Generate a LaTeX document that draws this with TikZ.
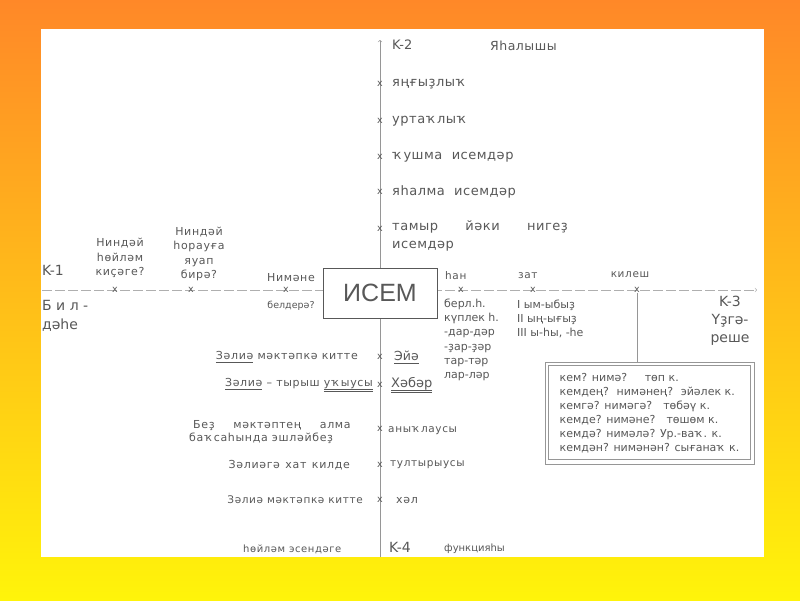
\documentclass[tikz,border=0pt]{standalone}
\usepackage{fontspec}
\setmainfont{DejaVu Sans}
\newfontfamily\arialfont{Liberation Sans}
\newfontfamily\widefont[LetterSpace=6]{DejaVu Sans}
\newfontfamily\midfont[LetterSpace=4]{DejaVu Sans}
\definecolor{inkGray}{RGB}{88,88,88}
\definecolor{axisGray}{RGB}{150,150,150}
\definecolor{dashGray}{RGB}{175,175,175}
\definecolor{topOrange}{RGB}{255,136,40}
\definecolor{bottomYellow}{RGB}{255,244,10}
\newcommand{\fs}[2]{\fontsize{#1}{#2}\selectfont}
\newcommand{\undl}[1]{\setbox0\hbox{#1}\rlap{\rule[-2.8pt]{\wd0}{0.6pt}}\copy0\relax}
\newcommand{\dundl}[1]{\setbox0\hbox{#1}\rlap{\rule[-2.6pt]{\wd0}{0.6pt}}\rlap{\rule[-4.8pt]{\wd0}{0.6pt}}\copy0\relax}

\tikzset{
  ink/.style={text=inkGray, inner sep=0pt},
  tick/.style={ink, font=\fs{9.5}{9.5}},
  axis/.style={axisGray, line width=0.6pt},
  small/.style={ink, font=\widefont\fs{11}{14.3}, align=center},
  vitem/.style={ink, font=\midfont\fs{13}{18.5}, anchor=west, align=left},
  big/.style={ink, font=\fs{14}{19}},
  sent/.style={ink, font=\widefont\fs{11}{13.5}, anchor=east},
}

\begin{document}
\begin{tikzpicture}[x=1pt, y=-1pt]
  \useasboundingbox (0,0) rectangle (800,600);
  \shade[top color=topOrange, bottom color=bottomYellow] (0,0) rectangle (800,600);
  \fill[white] (41,29) rectangle (764,557);

  % axes
  \coordinate (k1) at (42,290);
  \coordinate (k3) at (757,290);
  \coordinate (k2) at (380,40);
  \coordinate (k4) at (380,557);
  \draw[axis, dashGray, dash pattern=on 10pt off 3pt, ->] (k1) -- (k3);
  \draw[axis, ->] (k4) -- (k2);

  \node[draw=inkGray, fill=white, line width=0.7pt, minimum width=114pt, minimum height=50pt,
        text=inkGray, font=\arialfont\fs{25}{25}] (isem) at (380,293) {ИСЕМ};

  % K-2
  \node[ink, font=\fs{13}{13}, anchor=west] (lk2) at (392,45) {K-2};
  \node[ink, font=\midfont\fs{12.5}{12.5}, anchor=west] (yasal) at (490,46) {Яһалышы};
  \node[tick] (v1) at (380,84) {x};
  \node[vitem] (v1t) at (392,84) {яңғыҙлыҡ};
  \node[tick] (v2) at (380,121) {x};
  \node[vitem] (v2t) at (392,121) {уртаҡлыҡ};
  \node[tick] (v3) at (380,157) {x};
  \node[vitem] (v3t) at (392,157) {ҡушма\ \ исемдәр};
  \node[tick] (v4) at (380,192) {x};
  \node[vitem] (v4t) at (392,192) {яһалма\ \ исемдәр};
  \node[tick] (v5) at (380,229) {x};
  \node[vitem, anchor=north west] (v5t) at (392,220)
    {тамыр\hspace{2.1em}йәки\hspace{2.1em}нигеҙ\\исемдәр};

  % K-1
  \node[big, anchor=west] (lk1) at (42,270) {K-1};
  \node[big, anchor=west, align=left] (bilde) at (42,315.5) {Б и л -\\дәһе};
  \node[tick] (h1) at (115,290) {x};
  \node[small] (h1t) at (120,258) {Ниндәй\\һөйләм\\киҫәге?};
  \node[tick] (h2) at (191,290) {x};
  \node[small] (h2t) at (199,254) {Ниндәй\\һорауға\\яуап\\бирә?};
  \node[tick] (h3) at (286,290) {x};
  \node[small] (h3t) at (291,278) {Нимәне};
  \node[ink, font=\fs{9.5}{9.5}] (h3b) at (291,306) {белдерә?};

  % K-3
  \node[tick] (h4) at (461,290) {x};
  \node[ink, font=\widefont\fs{10.5}{10.5}, anchor=west] (han) at (445,276) {һан};
  \node[ink, font=\fs{11}{14.3}, anchor=west, align=left] (hanl) at (444,340)
    {берл.һ.\\күплек һ.\\-дар-дәр\\-ҙар-ҙәр\\тар-тәр\\лар-ләр};
  \node[tick] (h5) at (533,290) {x};
  \node[ink, font=\widefont\fs{10.5}{10.5}, anchor=west] (zat) at (518,276) {зат};
  \node[ink, font=\fs{11}{14.3}, anchor=west, align=left] (zatl) at (517,319)
    {I ым-ыбыҙ\\II ың-ығыҙ\\III ы-һы, -һе};
  \node[tick] (h6) at (637,290) {x};
  \node[ink, font=\widefont\fs{10.5}{10.5}] (kilesh) at (630,275) {килеш};
  \node[big, align=center, font=\fs{14}{18}] (lk3) at (730,321) {K-3\\Үҙгә-\\реше};

  \node[draw=axisGray, line width=0.6pt, ink,
        font=\fs{11}{13.9}, align=left, inner xsep=12pt, inner ysep=9pt,
        minimum width=209pt, minimum height=102pt] (casebox) at (649.5,413)
    {кем? нимә?\hspace{1.6em}төп к.\\
     кемдең?\hspace{.7em}нимәнең?\hspace{.7em}эйәлек к.\\
     кемгә? нимәгә?\hspace{1em}төбәү к.\\
     кемде? нимәне?\hspace{1em}төшөм к.\\
     кемдә? нимәлә? Ур.-ваҡ. к.\\
     кемдән? нимәнән? сығанаҡ к.};
  \draw[axisGray, line width=0.6pt] ([shift={(4pt,-4pt)}]casebox.north west)
    rectangle ([shift={(-4pt,5pt)}]casebox.south east);
  \draw[axis] (h6) -- (h6 |- casebox.north);

  % K-4
  \node[tick] (s1) at (380,357) {x};
  \node[sent] (s1t) at (358,357) {\undl{Зәлиә} мәктәпкә китте};
  \node[ink, font=\fs{12.5}{12.5}, anchor=west] (eye) at (394,357) {\undl{Эйә}};
  \node[tick] (s2) at (380,385) {x};
  \node[sent] (s2t) at (373,385) {\undl{Зәлиә} – тырыш \dundl{уҡыусы}};
  \node[ink, font=\fs{13}{13}, anchor=west] (heber) at (391,385) {\dundl{Хәбәр}};
  \node[tick] (s3) at (380,428.6) {x};
  \node[sent, anchor=west, align=left] (s3t) at (189,432)
    {\hspace{4pt}Беҙ\hspace{1.7em}мәктәптең\hspace{1.7em}алма\\баҡсаһында эшләйбеҙ};
  \node[ink, font=\widefont\fs{10.5}{10.5}, anchor=west] (anyk) at (388,431) {аныҡлаусы};
  \node[tick] (s4) at (380,465) {x};
  \node[sent] (s4t) at (350,465) {Зәлиәгә\hspace{.5em}хат\hspace{.5em}килде};
  \node[ink, font=\widefont\fs{10.5}{10.5}, anchor=west] (tult) at (390,465) {тултырыусы};
  \node[tick] (s5) at (380,500) {x};
  \node[sent, font=\widefont\fs{10.5}{10.5}] (s5t) at (363,500) {Зәлиә мәктәпкә китте};
  \node[ink, font=\widefont\fs{11}{11}, anchor=west] (hel) at (396,500) {хәл};
  \node[ink, font=\widefont\fs{10}{10}, anchor=west] (esend) at (243,549) {һөйләм эсендәге};
  \node[big, anchor=west] (lk4) at (389,547) {K-4};
  \node[ink, font=\fs{10}{10}, anchor=west] (funk) at (444,549) {функцияһы};
\end{tikzpicture}
\end{document}
